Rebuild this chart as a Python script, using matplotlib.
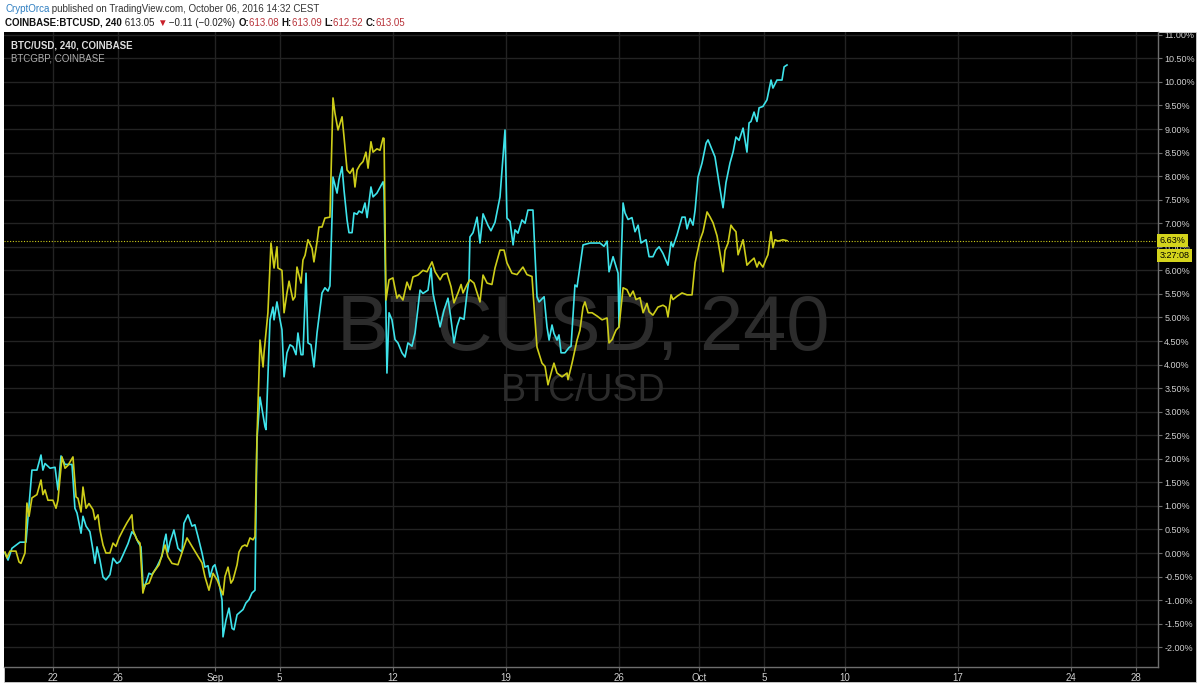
import matplotlib
matplotlib.use("Agg")
import matplotlib.pyplot as plt
import matplotlib.dates as mdates
from matplotlib.patches import Rectangle
from matplotlib.ticker import MultipleLocator, FuncFormatter
import numpy as np
import pandas as pd

# % change since Aug 19 2016 (4h chart)
start = pd.Timestamp("2016-08-19")

usd_days = [0.00, 0.19, 0.43, 0.93, 1.30, 1.67, 1.98, 2.23, 2.35, 2.48, 2.79, 3.10, 3.28, 3.47, 3.72, 4.15,
            4.33, 4.46, 4.71, 4.83, 5.02, 5.26, 5.45, 5.57, 5.70, 5.88, 6.07, 6.25, 6.50, 6.69, 6.93, 7.12,
            7.31, 7.62, 7.86, 8.05, 8.24, 8.42, 8.54, 8.61, 8.79, 8.92, 9.10, 9.41, 9.72, 9.85, 9.97, 10.09,
            10.22, 10.46, 10.71, 10.96, 11.08, 11.33, 11.58, 11.76, 11.95, 12.20, 12.38, 12.57, 12.69, 12.88,
            13.00, 13.19, 13.44, 13.50, 13.68, 13.87, 14.06, 14.18, 14.37, 14.61, 14.74, 14.92, 15.11, 15.29,
            15.48, 15.60, 15.79, 16.10, 16.16, 16.41, 16.59, 16.66, 16.84, 17.03, 17.15, 17.28, 17.46, 17.65,
            17.83, 18.02, 18.14, 18.33, 18.45, 18.64, 18.76, 18.95, 19.13, 19.32, 19.63, 19.81, 20.00, 20.12,
            20.25, 20.31, 20.56, 20.68, 20.87, 20.99, 21.18, 21.30, 21.49, 21.61, 21.80, 21.92, 22.11, 22.29,
            22.42, 22.66, 22.79, 23.03, 23.41, 23.47, 23.65, 23.78, 23.96, 24.15, 24.33, 24.58, 24.77, 24.95,
            25.20, 25.39, 25.51, 25.70, 25.88, 26.19, 26.38, 26.50, 26.75, 26.94, 27.18, 27.43, 27.62, 27.80,
            27.99, 28.17, 28.42, 28.61, 28.73, 28.79, 28.98, 29.23, 29.41, 29.60, 29.91, 30.09, 30.34, 30.65,
            30.96, 31.08, 31.27, 31.46, 31.58, 31.76, 32.01, 32.20, 32.38, 32.69, 32.94, 33.07, 33.38, 33.56,
            33.69, 33.87, 33.99, 34.18, 34.30, 34.43, 34.67, 34.92, 35.05, 35.29, 35.42, 35.79, 36.22, 36.84,
            37.09, 37.28, 37.40, 37.65, 37.96, 38.02, 38.27, 38.39, 38.58, 38.82, 39.01, 39.20, 39.38, 39.69,
            39.88, 40.12, 40.31, 40.50, 40.74, 41.05, 41.24, 41.36, 41.61, 41.92, 42.11, 42.23, 42.42, 42.60,
            42.73, 42.91, 43.16, 43.41, 43.53, 43.84, 43.96, 44.21, 44.46, 44.64, 44.89, 45.08, 45.26, 45.45,
            45.70, 45.94, 46.07, 46.19, 46.38, 46.56, 46.69, 46.93, 47.18, 47.43, 47.55, 47.80, 48.11, 48.24,
            48.42]
usd_pct = [0.00, -0.15, 0.10, 0.23, 0.23, 1.76, 1.76, 2.08, 1.76, 1.90, 1.80, 1.82, 1.34, 2.06, 1.88, 1.88,
           0.95, 0.85, 0.42, 0.78, 0.57, 0.45, 0.06, -0.22, 0.13, -0.15, -0.51, -0.57, -0.46, -0.11, -0.22, -0.18,
           -0.04, 0.20, 0.45, 0.38, 0.23, 0.13, -0.64, -0.75, -0.57, -0.43, -0.46, -0.29, -0.07, 0.23, 0.40, 0.02,
           0.23, 0.49, 0.10, 0.02, 0.63, 0.81, 0.57, 0.60, 0.35, 0.00, -0.30, -0.27, -0.51, -0.29,
           -0.25, -0.51, -1.00, -1.78, -1.43, -1.17, -1.60, -1.63, -1.31, -1.24, -1.20, -1.06, -0.99, -0.85,
           -0.79, 2.40, 3.31, 2.68, 2.62, 4.95, 5.22, 4.95, 5.33, 4.95, 4.74, 3.74, 4.25, 4.42,
           4.38, 4.21, 4.67, 4.21, 4.21, 5.94, 4.46, 4.42, 3.95, 4.67, 5.52, 5.63, 5.56, 5.67,
           7.13, 7.98, 7.64, 7.93, 8.20, 7.71, 7.07, 6.80, 6.80, 7.22, 7.19, 7.26, 7.22, 7.43,
           7.12, 7.77, 7.56, 7.64, 7.88, 7.70, 3.82, 5.10, 4.95, 4.53, 4.46, 4.25, 4.16, 4.46,
           4.39, 4.67, 5.02, 5.58, 5.51, 5.58, 6.05, 5.51, 5.10, 4.80, 5.15, 5.41, 4.95, 4.46,
           4.81, 5.00, 4.96, 5.52, 5.80, 6.71, 6.80, 7.13, 6.58, 7.20, 6.95, 6.84, 7.02, 7.56,
           8.98, 7.11, 7.04, 6.54, 6.86, 6.79, 7.07, 7.00, 7.28, 7.28, 5.44, 5.33, 5.44, 4.80,
           4.52, 4.84, 4.66, 4.52, 4.63, 4.25, 4.25, 4.36, 4.39, 5.69, 5.65, 6.54, 6.58, 6.58,
           6.51, 6.62, 5.97, 6.29, 5.94, 4.80, 7.43, 7.22, 7.08, 7.12, 6.82, 6.96, 6.58, 6.65,
           6.29, 6.29, 6.43, 6.50, 6.36, 6.11, 6.60, 6.50, 6.75, 7.13, 7.13, 6.88, 7.10, 6.96,
           7.28, 7.98, 8.28, 8.70, 8.77, 8.51, 8.41, 7.86, 7.33, 7.86, 8.28, 8.51, 8.83, 8.76,
           9.02, 8.51, 9.13, 9.16, 9.36, 9.16, 9.45, 9.48, 9.62, 10.04, 9.87, 10.04, 10.04, 10.32,
           10.36]

gbp_days = [0.00, 0.12, 0.31, 0.68, 0.87, 0.99, 1.24, 1.36, 1.49, 1.67, 1.98, 2.23, 2.35, 2.48, 2.66, 2.97,
            3.16, 3.28, 3.53, 3.72, 3.90, 4.21, 4.40, 4.52, 4.71, 4.83, 5.02, 5.20, 5.45, 5.57, 5.76, 5.88,
            6.07, 6.25, 6.50, 6.69, 6.87, 7.06, 7.31, 7.55, 7.86, 7.93, 8.17, 8.36, 8.54, 8.67, 8.92, 9.16,
            9.54, 9.78, 9.91, 10.09, 10.34, 10.71, 11.02, 11.27, 11.58, 12.20, 12.38, 12.63, 12.88, 13.13,
            13.50, 13.62, 13.81, 13.99, 14.12, 14.37, 14.49, 14.68, 14.86, 14.98, 15.17, 15.36, 15.48, 15.60,
            15.79, 15.98, 16.04, 16.28, 16.47, 16.66, 16.84, 16.90, 17.15, 17.28, 17.46, 17.59, 17.83, 17.96,
            18.08, 18.33, 18.45, 18.58, 18.76, 19.01, 19.13, 19.32, 19.44, 19.63, 19.81, 20.12, 20.31, 20.43,
            20.62, 20.87, 20.99, 21.18, 21.36, 21.55, 21.67, 21.80, 21.98, 22.17, 22.35, 22.48, 22.66, 22.79,
            23.03, 23.22, 23.41, 23.47, 23.59, 23.78, 24.02, 24.27, 24.40, 24.64, 24.89, 25.08, 25.26, 25.57,
            25.88, 26.13, 26.44, 26.63, 26.94, 27.12, 27.37, 27.62, 27.80, 28.05, 28.24, 28.36, 28.61, 28.79,
            29.04, 29.41, 29.60, 29.85, 30.15, 30.34, 30.65, 30.77, 30.90, 31.08, 31.39, 31.70, 32.07, 32.32,
            32.63, 32.76, 32.94, 33.25, 33.44, 33.62, 33.87, 33.99, 34.18, 34.49, 34.80, 34.86, 35.11, 35.42,
            35.60, 35.79, 35.91, 36.10, 36.35, 36.66, 36.97, 37.28, 37.40, 37.59, 37.83, 38.02, 38.27, 38.51,
            38.70, 38.89, 39.07, 39.32, 39.51, 39.75, 39.88, 40.12, 40.43, 40.74, 40.93, 41.05, 41.24, 41.36,
            41.61, 41.92, 42.23, 42.54, 42.73, 43.04, 43.22, 43.47, 43.66, 43.84, 44.09, 44.27, 44.46, 44.58,
            44.77, 44.95, 45.08, 45.26, 45.39, 45.70, 45.94, 46.13, 46.38, 46.56, 46.69, 46.93, 47.12, 47.24,
            47.43, 47.55, 47.68, 47.86, 48.17, 48.42]
gbp_pct = [0.02, -0.10, 0.04, 0.04, -0.19, -0.22, 0.00, 1.06, 0.78, 1.17, 1.24, 1.55, 1.24, 1.34, 1.12, 1.12,
           0.95, 1.12, 2.04, 1.80, 1.86, 2.04, 1.19, 1.16, 0.87, 1.40, 0.95, 1.05, 0.92, 0.71, 0.81, 0.49,
           0.17, 0.00, 0.00, 0.21, 0.14, 0.32, 0.49, 0.64, 0.81, 0.49, 0.28, 0.21, -0.85, -0.67, -0.64, -0.43,
           -0.25, 0.02, 0.17, -0.08, -0.22, -0.25, 0.07, 0.32, 0.14, -0.21, -0.50, -0.79, -0.43, -0.57,
           -0.89, -0.50, -0.30, -0.64, -0.57, -0.25, 0.02, 0.14, 0.17, 0.14, 0.32, 0.28, 0.35, 2.40,
           4.52, 3.95, 4.25, 5.10, 6.58, 6.05, 6.50, 6.05, 6.00, 5.10, 5.52, 5.77, 5.37, 5.44,
           6.07, 5.73, 6.22, 6.32, 6.65, 6.47, 6.18, 6.60, 6.92, 6.92, 7.11, 7.13, 9.66, 9.34,
           8.98, 9.26, 8.84, 8.13, 8.06, 8.17, 7.77, 8.13, 8.24, 8.31, 8.51, 8.17, 8.73, 8.51,
           8.58, 8.55, 8.81, 8.80, 5.37, 5.80, 5.84, 5.41, 5.48, 5.37, 5.75, 5.59, 5.86, 5.90,
           6.00, 5.97, 6.18, 5.97, 5.80, 5.91, 5.94, 5.65, 5.31, 5.52, 5.70, 5.52, 5.70, 5.80,
           5.73, 5.33, 5.90, 5.73, 5.70, 6.05, 6.43, 6.43, 6.43, 6.16, 5.94, 5.91, 6.07, 5.91,
           5.87, 5.22, 4.37, 4.03, 3.96, 3.57, 3.89, 4.03, 3.82, 3.74, 3.82, 3.68, 4.03, 4.52,
           4.73, 5.22, 5.33, 5.10, 5.10, 5.03, 4.95, 4.99, 4.46, 4.53, 4.73, 4.80, 5.63, 5.59,
           5.45, 5.56, 5.38, 5.42, 5.10, 5.30, 5.12, 5.05, 5.22, 5.26, 5.22, 5.01, 5.48, 5.38,
           5.45, 5.52, 5.48, 5.48, 6.16, 6.65, 6.82, 7.24, 7.13, 7.01, 6.73, 6.37, 5.97, 6.42,
           6.58, 6.96, 6.89, 6.82, 6.33, 6.65, 6.11, 6.18, 6.26, 6.07, 6.18, 6.07, 6.24, 6.33,
           6.82, 6.48, 6.65, 6.62, 6.65, 6.63]

last_pct = 6.63
countdown = "3:27:08"

tick_dates = ["2016-08-22", "2016-08-26", "2016-09-01", "2016-09-05", "2016-09-12", "2016-09-19",
              "2016-09-26", "2016-10-01", "2016-10-05", "2016-10-10", "2016-10-17", "2016-10-24",
              "2016-10-28"]
tick_labels = ["22", "26", "Sep", "5", "12", "19", "26", "Oct", "5", "10", "17", "24", "28"]

CYAN = "#3ee3ea"
YELLOW = "#cdcd19"
GRID = "#232323"
AXIS = "#6e6e6e"
LABEL = "#cfcfcf"
FONT = "Liberation Sans"

plt.rcParams["font.family"] = [FONT, "DejaVu Sans"]

fig = plt.figure(figsize=(12, 6.87), dpi=100, facecolor="white")
# black chart panel behind the axes
fig.add_artist(Rectangle((4 / 1200, 5 / 687), 1192 / 1200, 650 / 687, transform=fig.transFigure,
                         facecolor="black", edgecolor="#d0d0d0", lw=0.6, zorder=0))
ax = fig.add_axes([4 / 1200, 20 / 687, 1154 / 1200, 635 / 687])
ax.set_facecolor("black")

t0 = mdates.date2num(start)
ax.plot(t0 + np.array(usd_days), usd_pct, color=CYAN, lw=1.2, zorder=3)
ax.plot(t0 + np.array(gbp_days), gbp_pct, color=YELLOW, lw=1.2, zorder=4)
ax.axhline(last_pct, color=YELLOW, lw=0.8, ls=(0, (1, 1.5)), zorder=2)

ax.set_xlim(t0 - 0.06, t0 + 71.39)
ax.set_ylim(-2.42, 11.06)

ax.set_xticks([mdates.date2num(pd.Timestamp(d)) for d in tick_dates])
ax.set_xticklabels(tick_labels)
ax.yaxis.tick_right()
ax.yaxis.set_major_locator(MultipleLocator(0.5))
ax.yaxis.set_major_formatter(FuncFormatter(lambda v, p: f"{v:.2f}%"))
ax.grid(True, color=GRID, lw=1.0, zorder=0)
ax.set_axisbelow(True)

for s in ["left", "top"]:
    ax.spines[s].set_visible(False)
for s in ["right", "bottom"]:
    ax.spines[s].set_color(AXIS)
    ax.spines[s].set_linewidth(1.0)

ax.tick_params(axis="x", length=3, width=0.8, color=AXIS, labelcolor=LABEL, labelsize=7, pad=1)
ax.tick_params(axis="y", length=3, width=0.8, color=AXIS, labelcolor=LABEL, labelsize=6.5, pad=1.5)

# watermark
ax.text(0.502, 0.532, "BTCUSD, 240", transform=ax.transAxes, ha="center", va="center",
        fontsize=56, color="#2c2c2c", zorder=1)
ax.text(0.502, 0.434, "BTC/USD", transform=ax.transAxes, ha="center", va="center",
        fontsize=27, color="#2c2c2c", zorder=1)

# series names
fig.text(11 / 1200, (687 - 48.5) / 687, "BTC/USD, 240, COINBASE", fontsize=7, fontweight="bold",
         color="#dddddd", va="baseline")
fig.text(11 / 1200, (687 - 61.7) / 687, "BTCGBP, COINBASE", fontsize=7, color="#b0b0b0", va="baseline")

# last value tags
trans = ax.get_yaxis_transform()
ax.text(1.0015, last_pct, f"{last_pct:.2f}%", transform=trans, ha="left", va="center",
        fontsize=6.5, color="black",
        bbox=dict(boxstyle="square,pad=0.25", fc="#d4d41c", ec="none"), zorder=6, clip_on=False)
ax.annotate(countdown, xy=(1.0015, last_pct), xycoords=trans, xytext=(0, -10.5),
            textcoords="offset points", ha="left", va="center", fontsize=6.5, color="black",
            bbox=dict(boxstyle="square,pad=0.25", fc="#d4d41c", ec="none"), zorder=6,
            annotation_clip=False)


def chain(x, y, pieces, size=7):
    t = fig.text(x, y, pieces[0][0], color=pieces[0][1], fontweight=pieces[0][2],
                 fontsize=size, va="baseline")
    for txt, col, wt in pieces[1:]:
        t = ax.annotate(txt, xy=(1, 0), xycoords=t, ha="left", va="bottom", color=col,
                        fontweight=wt, fontsize=size, annotation_clip=False)


RED = "#b8333a"
chain(5 / 1200, (687 - 11.5) / 687, [
    ("CryptOrca", "#2f7fc1", "normal"),
    (" published on TradingView.com, October 06, 2016 14:32 CEST", "#333333", "normal"),
])
chain(5 / 1200, (687 - 25.7) / 687, [
    ("COINBASE:BTCUSD, 240", "#111111", "bold"),
    (" 613.05 ", "#222222", "normal"),
    ("\u25bc", "#c8202a", "normal"),
    (" \u22120.11 (\u22120.02%) ", "#222222", "normal"),
    ("O:", "#111111", "bold"), ("613.08 ", RED, "normal"),
    ("H:", "#111111", "bold"), ("613.09 ", RED, "normal"),
    ("L:", "#111111", "bold"), ("612.52 ", RED, "normal"),
    ("C:", "#111111", "bold"), ("613.05", RED, "normal"),
])

fig.savefig("out.png", dpi=100, facecolor="white")
